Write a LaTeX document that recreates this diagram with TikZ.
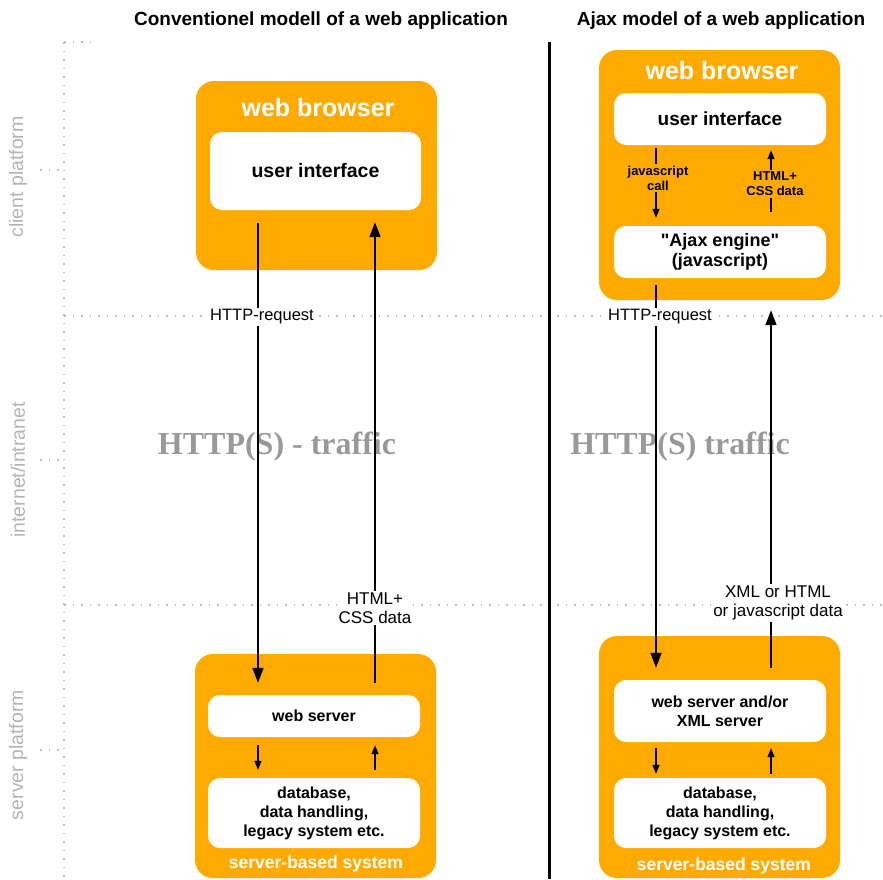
\documentclass[tikz,border=0pt]{standalone}
\usepackage{fontspec}
\setmainfont{Liberation Sans}
\newfontfamily\serifb{Liberation Serif}
\usetikzlibrary{arrows.meta}
\definecolor{orng}{HTML}{FFAA00}
\definecolor{dotgray}{HTML}{BEBEBE}
\definecolor{sidegray}{HTML}{B4B4B4}
\definecolor{trafgray}{HTML}{999999}
\begin{document}
\begin{tikzpicture}[x=1pt,y=-1pt,
  outerbox/.style={draw=none,fill=orng,rounded corners=18pt,inner sep=0pt},
  innerbox/.style={draw=none,fill=white,rounded corners=12pt,inner sep=0pt,align=center,font=\bfseries\fontsize{16}{19}\selectfont},
  boxtitle/.style={text=white,font=\bfseries\fontsize{25}{28}\selectfont,inner sep=0pt},
  foottitle/.style={text=white,font=\bfseries\fontsize{17.5}{19}\selectfont,inner sep=0pt},
  bigarr/.style={draw=black,line width=1.6pt,-{Triangle[length=15pt,width=11pt]}},
  smallarr/.style={draw=black,line width=1.3pt,-{Triangle[length=9pt,width=7pt]}},
  dotln/.style={draw=dotgray,line width=1.5pt,dash pattern=on 1.5pt off 7pt},
  lbl/.style={fill=white,inner sep=2pt,align=center,font=\fontsize{16.5}{18.5}\selectfont},
  olbl/.style={fill=orng,inner sep=1.5pt,align=center,text=black},
  side/.style={text=sidegray,rotate=90,font=\fontsize{19.5}{21}\selectfont},
  traf/.style={text=trafgray,font=\serifb\bfseries\fontsize{32}{35}\selectfont},
  ttl/.style={font=\bfseries\fontsize{19}{21}\selectfont}
]
\useasboundingbox (0,0) rectangle (883,879);

% dotted grid
\draw[dotln] (64,42) -- (64,879);
\draw[dotln] (64,42) -- (90,42);
\draw[dotln] (64,316) -- (883,316);
\draw[dotln] (64,605) -- (883,605);
\draw[dotln] (40,170) -- (64,170);
\draw[dotln] (40,460) -- (64,460);
\draw[dotln] (40,750) -- (64,750);

% side labels
\node[side] (sclient) at (18,177) {client platform};
\node[side] (snet) at (18,470) {internet/intranet};
\node[side] (sserver) at (18,755) {server platform};

% titles
\node[ttl] (t1) at (321,21) {Conventionel modell of a web application};
\node[ttl] (t2) at (721,21) {Ajax model of a web application};

% divider
\draw[line width=3pt] (549,42) -- (549,879);

% traffic texts
\node[traf] (traf1) at (277,447) {HTTP(S) - traffic};
\node[traf] (traf2) at (680,447) {HTTP(S) traffic};

% ---------- left: conventional ----------
\node[outerbox,minimum width=241pt,minimum height=189pt] (lb) at (316.5,175.5) {};
\node[boxtitle] (lbt) at (318,108) {web browser};
\node[innerbox,minimum width=211pt,minimum height=78pt,font=\bfseries\fontsize{19.5}{22}\selectfont] (lui) at (315.5,171) {user interface};

\node[outerbox,minimum width=241pt,minimum height=224pt] (ls) at (315.5,766) {};
\node[innerbox,minimum width=212pt,minimum height=42pt] (lws) at (314,716) {web server};
\node[innerbox,minimum width=212pt,minimum height=70pt] (ldb) at (314,813) {database,\\data handling,\\legacy system etc.};
\node[foottitle] (lst) at (316,864) {server-based system};

\coordinate (la) at (258,0);
\coordinate (lc) at (375,0);
\draw[bigarr,shorten <=13pt,shorten >=12pt] (lui.south -| la) -- (lws.north -| la);
\draw[bigarr,shorten <=12pt,shorten >=12pt] (lws.north -| lc) -- (lui.south -| lc);
\draw[smallarr,shorten <=8pt,shorten >=8pt] (lws.south -| la) -- (ldb.north -| la);
\draw[smallarr,shorten <=8pt,shorten >=8pt] (ldb.north -| lc) -- (lws.south -| lc);

\node[lbl] (lreq) at (262,317) {HTTP-request};
\node[lbl,font=\fontsize{17}{19}\selectfont] (lresp) at (375,608) {HTML+\\CSS data};

% ---------- right: ajax ----------
\node[outerbox,minimum width=241pt,minimum height=250pt] (rb) at (719.5,175) {};
\node[boxtitle] (rbt) at (722,71) {web browser};
\node[innerbox,minimum width=212pt,minimum height=52pt,font=\bfseries\fontsize{19}{22}\selectfont] (rui) at (720,119) {user interface};
\node[innerbox,minimum width=212pt,minimum height=52pt,font=\bfseries\fontsize{18}{20}\selectfont\addfontfeatures{Ligatures=TeXOff}] (reng) at (720,252) {"Ajax engine"\\(javascript)};

\node[outerbox,minimum width=241pt,minimum height=242pt] (rs) at (719.5,757) {};
\node[innerbox,minimum width=212pt,minimum height=62pt] (rws) at (720,711) {web server and/or\\XML server};
\node[innerbox,minimum width=212pt,minimum height=70pt] (rdb) at (720,813) {database,\\data handling,\\legacy system etc.};
\node[foottitle] (rst) at (724,866) {server-based system};

\coordinate (ra) at (656,0);
\coordinate (rc) at (771,0);
\draw[smallarr,line width=1.5pt,shorten <=3pt,shorten >=8pt] (rui.south -| ra) -- (reng.north -| ra);
\draw[smallarr,line width=1.5pt,shorten <=14pt,shorten >=5pt] (reng.north -| rc) -- (rui.south -| rc);
\draw[bigarr,shorten <=7pt,shorten >=12pt] (reng.south -| ra) -- (rws.north -| ra);
\draw[bigarr,shorten <=12pt,shorten >=10pt] (rws.north -| rc) -- (rb.south -| rc);
\draw[smallarr,shorten <=6pt,shorten >=4pt] (rws.south -| ra) -- (rdb.north -| ra);
\draw[smallarr,shorten <=4pt,shorten >=6pt] (rdb.north -| rc) -- (rws.south -| rc);

\node[olbl,font=\bfseries\fontsize{13}{15}\selectfont] (rjs) at (658,178) {javascript\\call};
\node[olbl,font=\bfseries\fontsize{13}{15}\selectfont] (rhtml) at (775,184) {HTML+\\CSS data};
\node[lbl] (rreq) at (660,317) {HTTP-request};
\node[lbl,font=\fontsize{17}{19}\selectfont] (rresp) at (778,603) {XML or HTML\\or javascript data};
\end{tikzpicture}
\end{document}
